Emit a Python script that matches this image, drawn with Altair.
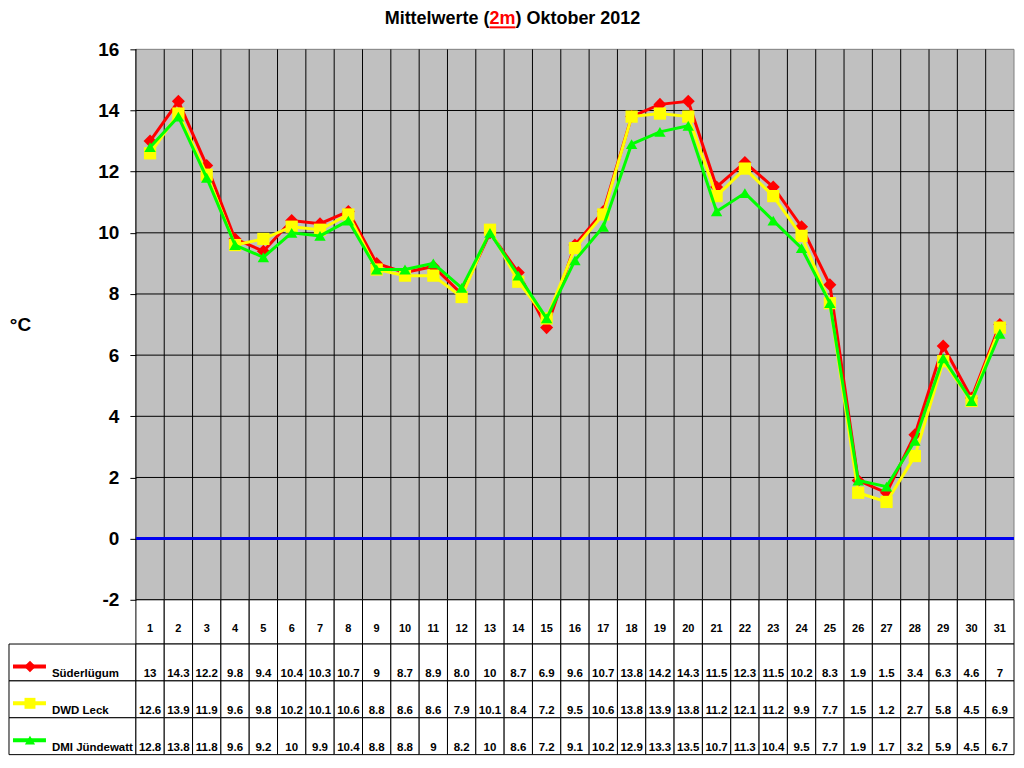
import altair as alt
import pandas as pd

# ---- data ----
days = list(range(1, 32))
series_names = ["Süderlügum", "DWD Leck", "DMI Jündewatt"]
series_colors = ["#FF0000", "#FFFF00", "#00FF00"]
series_shapes = ["diamond", "square", "triangle-up"]
series_sizes = [170, 150, 130]

sued = [13, 14.3, 12.2, 9.8, 9.4, 10.4, 10.3, 10.7, 9, 8.7, 8.9, 8.0, 10, 8.7, 6.9, 9.6,
        10.7, 13.8, 14.2, 14.3, 11.5, 12.3, 11.5, 10.2, 8.3, 1.9, 1.5, 3.4, 6.3, 4.6, 7]
dwd = [12.6, 13.9, 11.9, 9.6, 9.8, 10.2, 10.1, 10.6, 8.8, 8.6, 8.6, 7.9, 10.1, 8.4, 7.2, 9.5,
       10.6, 13.8, 13.9, 13.8, 11.2, 12.1, 11.2, 9.9, 7.7, 1.5, 1.2, 2.7, 5.8, 4.5, 6.9]
dmi = [12.8, 13.8, 11.8, 9.6, 9.2, 10, 9.9, 10.4, 8.8, 8.8, 9, 8.2, 10, 8.6, 7.2, 9.1,
       10.2, 12.9, 13.3, 13.5, 10.7, 11.3, 10.4, 9.5, 7.7, 1.9, 1.7, 3.2, 5.9, 4.5, 6.7]
series_values = [sued, dwd, dmi]

y_ticks = [-2, 0, 2, 4, 6, 8, 10, 12, 14, 16]

# ---- layout constants ----
W, H = 1006, 706
X_MIN, X_MAX = -3.98, 31.5
Y_RANGE = [551, 0]
ROW_DOMAIN = [-0.7, 3.5]
ROW_RANGE = [551, 706]
FONT = "Liberation Sans"

xs = alt.Scale(domain=[X_MIN, X_MAX], nice=False, zero=False)
ys = alt.Scale(domain=[-2, 16], range=Y_RANGE, nice=False, zero=False)
rs = alt.Scale(domain=ROW_DOMAIN, range=ROW_RANGE, nice=False, zero=False)

# ---- temperature part ----
bg = pd.DataFrame({"x0": [0.5], "x1": [31.5], "y0": [-2], "y1": [16]})
background = alt.Chart(bg).mark_rect(fill="#C0C0C0", stroke="#808080", strokeWidth=1).encode(
    x=alt.X("x0:Q", scale=xs, axis=None), x2="x1:Q",
    y=alt.Y("y0:Q", scale=ys, axis=alt.Axis(
        values=y_ticks, grid=False, domain=False, offset=-127, zindex=1,
        labelExpr="'' + datum.value",
        labelFont=FONT, labelFontSize=19, labelFontWeight="bold", labelColor="black",
        labelPadding=11, tickSize=6, tickColor="black", tickWidth=1,
        title="°C", titleFont=FONT, titleFontSize=19, titleFontWeight="bold",
        titleColor="black", titleAngle=0, titleX=-116, titleY=275,
        titleAlign="center", titleBaseline="middle")),
    y2="y1:Q",
)

hgrid_df = pd.DataFrame({"y": [v for v in y_ticks if v != 16], "x0": 0.5, "x1": 31.5})
hgrid = alt.Chart(hgrid_df).mark_rule(color="black", strokeWidth=1).encode(
    x=alt.X("x0:Q", scale=xs), x2="x1:Q", y=alt.Y("y:Q", scale=ys))

vgrid_df = pd.DataFrame({"x": [d - 0.5 for d in days], "y0": -2, "y1": 16})
vgrid = alt.Chart(vgrid_df).mark_rule(color="black", strokeWidth=1).encode(
    x=alt.X("x:Q", scale=xs), y=alt.Y("y0:Q", scale=ys), y2="y1:Q")

zero_df = pd.DataFrame({"y": [0], "x0": [0.5], "x1": [31.5]})
zero_line = alt.Chart(zero_df).mark_rule(color="#0000F0", strokeWidth=3).encode(
    x=alt.X("x0:Q", scale=xs), x2="x1:Q", y=alt.Y("y:Q", scale=ys))

temp_layers = [background, hgrid, vgrid, zero_line]
for name, vals, col, shp, sz in zip(series_names, series_values, series_colors,
                                    series_shapes, series_sizes):
    df = pd.DataFrame({"day": days, "v": vals})
    base = alt.Chart(df).encode(x=alt.X("day:Q", scale=xs), y=alt.Y("v:Q", scale=ys))
    temp_layers.append(base.mark_line(color=col, strokeWidth=3))
    temp_layers.append(base.mark_point(shape=shp, size=sz, filled=True, color=col, opacity=1))

# title pieces
t1 = alt.Chart(pd.DataFrame({"t": ["Mittelwerte ("]})).mark_text(
    font=FONT, fontSize=18, fontWeight="bold", align="right", baseline="alphabetic",
    color="black").encode(x=alt.value(481), y=alt.value(-25), text="t:N")
t2 = alt.Chart(pd.DataFrame({"t": ["2m"]})).mark_text(
    font=FONT, fontSize=18, fontWeight="bold", align="left", baseline="alphabetic",
    color="#FF0000").encode(x=alt.value(481), y=alt.value(-25), text="t:N")
t3 = alt.Chart(pd.DataFrame({"t": [") Oktober 2012"]})).mark_text(
    font=FONT, fontSize=18, fontWeight="bold", align="left", baseline="alphabetic",
    color="black").encode(x=alt.value(507), y=alt.value(-25), text="t:N")
t_ul = alt.Chart(pd.DataFrame({"t": ["2m"]})).mark_rule(color="#FF0000", strokeWidth=2).encode(
    x=alt.value(481), x2=alt.value(507), y=alt.value(-22))
temp_layers += [t1, t2, t3, t_ul]

temp = alt.layer(*temp_layers)

# ---- data table part ----
cells = []
for d in days:
    cells.append({"x0": d - 0.5, "x1": d + 0.5, "r0": ROW_DOMAIN[0], "r1": 0.5})
for i, name in enumerate(series_names, start=1):
    cells.append({"x0": X_MIN, "x1": 0.5, "r0": i - 0.5, "r1": i + 0.5})
    for d in days:
        cells.append({"x0": d - 0.5, "x1": d + 0.5, "r0": i - 0.5, "r1": i + 0.5})
cells_df = pd.DataFrame(cells)
cell_rects = alt.Chart(cells_df).mark_rect(fill="white", stroke="black", strokeWidth=1).encode(
    x=alt.X("x0:Q", scale=xs), x2="x1:Q",
    y=alt.Y("r0:Q", scale=rs, axis=None), y2="r1:Q")

head_df = pd.DataFrame({"day": days, "r": 0.5, "t": [str(d) for d in days]})
head_text = alt.Chart(head_df).mark_text(font=FONT, fontSize=11, fontWeight="bold",
                                         baseline="alphabetic", dy=-12, color="black").encode(
    x=alt.X("day:Q", scale=xs), y=alt.Y("r:Q", scale=rs), text="t:N")

vals_rows = []
for i, vals in enumerate(series_values, start=1):
    for d, v in zip(days, vals):
        vals_rows.append({"day": d, "r": i + 0.5, "t": str(v)})
vals_df = pd.DataFrame(vals_rows)
val_text = alt.Chart(vals_df).mark_text(font=FONT, fontSize=11.5, fontWeight="bold",
                                        baseline="alphabetic", dy=-4, color="black").encode(
    x=alt.X("day:Q", scale=xs), y=alt.Y("r:Q", scale=rs), text="t:N")

leg_df = pd.DataFrame({"name": series_names, "r": [1, 2, 3], "rb": [1.5, 2.5, 3.5],
                       "x0": X_MIN})
name_text = alt.Chart(leg_df).mark_text(font=FONT, fontSize=11.5, fontWeight="bold",
                                        align="left", baseline="alphabetic", dx=43, dy=-4,
                                        color="black").encode(
    x=alt.X("x0:Q", scale=xs), y=alt.Y("rb:Q", scale=rs), text="name:N")

table_layers = [cell_rects, head_text, val_text, name_text]
for i, (col, shp, sz) in enumerate(zip(series_colors, series_shapes, series_sizes), start=1):
    gdf = pd.DataFrame({"r": [i]})
    table_layers.append(alt.Chart(gdf).mark_rule(color=col, strokeWidth=4, yOffset=4).encode(
        x=alt.value(4), x2=alt.value(37), y=alt.Y("r:Q", scale=rs)))
    table_layers.append(alt.Chart(gdf).mark_point(shape=shp, size=sz * 0.8, filled=True,
                                                  color=col, opacity=1, yOffset=4).encode(
        x=alt.value(21), y=alt.Y("r:Q", scale=rs)))

table = alt.layer(*table_layers)

chart = alt.layer(temp, table).resolve_scale(y="independent").properties(
    width=W, height=H, padding={"left": 0, "top": 2, "right": 0, "bottom": 0},
    background="white",
).configure_view(stroke=None)

chart.save("out.html", embed_options={"renderer": "svg", "actions": False})
